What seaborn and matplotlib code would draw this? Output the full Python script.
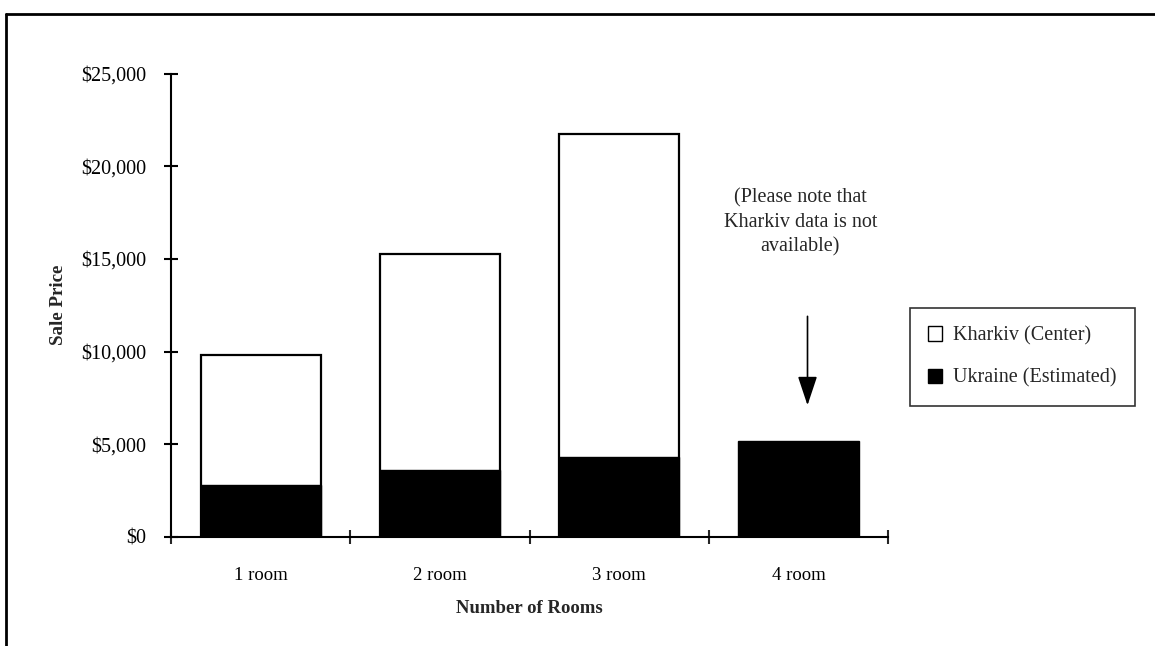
import numpy as np
import pandas as pd
import seaborn as sns
import matplotlib.pyplot as plt
from matplotlib.patches import Patch
from matplotlib.lines import Line2D
from matplotlib.ticker import FuncFormatter, FixedLocator

rooms = ['1 room', '2 room', '3 room', '4 room']
kharkiv = [9800, 15250, 21750, np.nan]  # no Kharkiv data for 4 rooms
ukraine = [2800, 3600, 4300, 5150]
series_names = ['Kharkiv (Center)', 'Ukraine (Estimated)']
note = '(Please note that\nKharkiv data is not\navailable)'

df = pd.DataFrame({'rooms': rooms, 'kharkiv': kharkiv, 'ukraine': ukraine})

sns.set_theme(style='white')
plt.rcParams['font.family'] = ['Liberation Serif', 'DejaVu Serif']

fig = plt.figure(figsize=(11.55, 6.46), dpi=100)
ax = fig.add_axes([0.148, 0.169, 0.621, 0.717])

sns.barplot(data=df, x='rooms', y='kharkiv', color='white', edgecolor='black',
            linewidth=1.6, width=0.67, saturation=1, ax=ax)
sns.barplot(data=df, x='rooms', y='ukraine', color='black', edgecolor='black',
            linewidth=1, width=0.67, saturation=1, ax=ax)

ax.set_xlim(-0.5, 3.5)
ax.set_ylim(0, 25000)
ax.set_yticks(range(0, 25001, 5000))
ax.yaxis.set_major_formatter(FuncFormatter(lambda v, p: f'${v:,.0f}'))
ax.xaxis.set_minor_locator(FixedLocator(np.arange(-0.5, 4, 1)))

for s in ['top', 'right']:
    ax.spines[s].set_visible(False)
for s in ['left', 'bottom']:
    ax.spines[s].set_linewidth(1.5)
    ax.spines[s].set_color('black')

ax.tick_params(axis='y', direction='inout', length=9.5, width=1.5, pad=13,
               labelsize=14.5, colors='black', left=True)
ax.tick_params(axis='x', which='major', length=0, pad=22, labelsize=13.5,
               colors='black')
ax.tick_params(axis='x', which='minor', direction='inout', length=9.5,
               width=1.5, bottom=True)

ax.set_xlabel('Number of Rooms', fontsize=13.5, fontweight='bold', labelpad=11)
ax.set_ylabel('Sale Price', fontsize=13.7, fontweight='bold', labelpad=10)

# note and arrow over the 4 room bar
ax.text(3.01, 16950, note, ha='center', va='center', fontsize=14.5,
        linespacing=1.38)
ax.annotate('', xy=(3.05, 7100), xytext=(3.05, 11900),
            arrowprops=dict(arrowstyle='-|>,head_width=0.5,head_length=1.5',
                            color='black', lw=1.2, shrinkA=0, shrinkB=0))

handles = [Patch(facecolor='white', edgecolor='black', linewidth=1),
           Patch(facecolor='black', edgecolor='black')]
leg = fig.legend(handles, series_names, loc='upper left',
                 bbox_to_anchor=(0.788, 0.523), fontsize=14.5, frameon=True,
                 fancybox=False, edgecolor='black', handlelength=0.7,
                 handleheight=0.7, handletextpad=0.55, labelspacing=1.15,
                 borderpad=0.9, borderaxespad=0)
leg.get_frame().set_linewidth(1.2)

# border lines of the chart area
fig.add_artist(Line2D([0.005, 1], [0.978, 0.978], color='black', lw=2,
                      transform=fig.transFigure))
fig.add_artist(Line2D([0.005, 0.005], [0, 0.978], color='black', lw=2,
                      transform=fig.transFigure))

fig.savefig('out.png', dpi=100)
